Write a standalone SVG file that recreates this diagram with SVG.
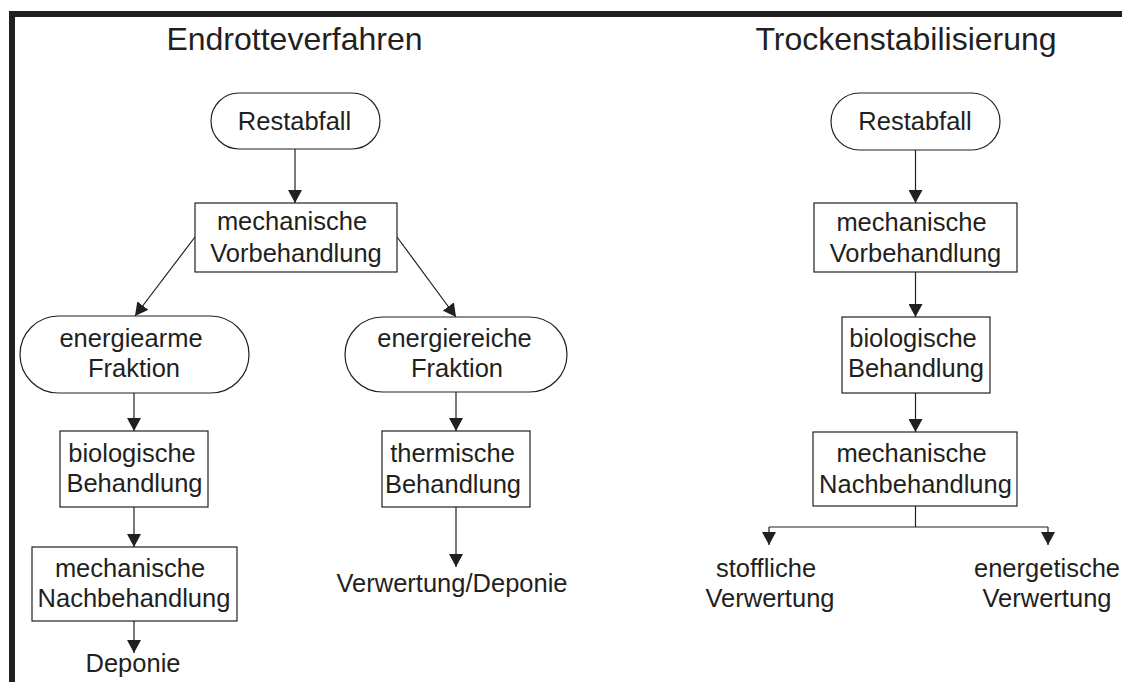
<svg xmlns="http://www.w3.org/2000/svg" width="1122" height="682" viewBox="0 0 1122 682">
<style>
.bg{fill:#fff}
.frame{stroke:#231f20;stroke-width:6;fill:none}
.node{fill:#fff;stroke:#231f20;stroke-width:1.2}
.t{font-family:"Liberation Sans",Arial,sans-serif;font-size:25.5px;fill:#231f20;text-anchor:middle}
.title{font-family:"Liberation Sans",Arial,sans-serif;font-size:32px;fill:#231f20;text-anchor:middle}
.edge{stroke:#231f20;stroke-width:1.2;fill:none}
.arr{marker-end:url(#ah)}
</style>
<defs>
<marker id="ah" markerUnits="userSpaceOnUse" markerWidth="14" markerHeight="14" viewBox="0 0 14 14" refX="13" refY="7" orient="auto">
<path d="M0,0 L13,7 L0,14 Z" fill="#231f20"/>
</marker>
</defs>
<rect class="bg" x="0" y="0" width="1122" height="682"/>
<path class="frame" d="M12,682 V14 H1122"/>
<text class="title" x="294.5" y="50">Endrotteverfahren</text>
<text class="title" x="906" y="50">Trockenstabilisierung</text>

<g id="connectors">
<line class="edge arr" x1="295" y1="149" x2="295" y2="203"/>
<line class="edge arr" x1="195" y1="237" x2="135" y2="316"/>
<line class="edge arr" x1="397" y1="237" x2="456" y2="317"/>
<line class="edge arr" x1="134" y1="393" x2="134" y2="431"/>
<line class="edge arr" x1="134" y1="507" x2="134" y2="547"/>
<line class="edge arr" x1="134" y1="621" x2="134" y2="653"/>
<line class="edge arr" x1="456" y1="392" x2="456" y2="431"/>
<line class="edge arr" x1="456" y1="507" x2="456" y2="567"/>
<line class="edge arr" x1="915.5" y1="150" x2="915.5" y2="203"/>
<line class="edge arr" x1="915.5" y1="272" x2="915.5" y2="317"/>
<line class="edge arr" x1="915.5" y1="393" x2="915.5" y2="432"/>
<path class="edge" d="M915.5,506 V527 M769,527 H1048"/>
<line class="edge arr" x1="769" y1="527" x2="769" y2="545"/>
<line class="edge arr" x1="1048" y1="527" x2="1048" y2="545"/>
</g>

<g id="restabfall-l"><rect class="node" x="211" y="93" width="169" height="56" rx="28"/><text class="t" x="294.5" y="130">Restabfall</text></g>
<g id="mvb-l"><rect class="node" x="195" y="203" width="202" height="69"/><text class="t" x="292" y="230">mechanische</text><text class="t" x="296" y="262">Vorbehandlung</text></g>
<g id="energiearm"><rect class="node" x="20" y="316" width="229" height="77" rx="38.5"/><text class="t" x="131" y="347">energiearme</text><text class="t" x="134" y="377">Fraktion</text></g>
<g id="energiereich"><rect class="node" x="345" y="317" width="222" height="75" rx="37.5"/><text class="t" x="454.5" y="347">energiereiche</text><text class="t" x="457" y="377">Fraktion</text></g>
<g id="bio-l"><rect class="node" x="60" y="431" width="148" height="76"/><text class="t" x="132" y="462">biologische</text><text class="t" x="134.5" y="492">Behandlung</text></g>
<g id="therm"><rect class="node" x="382" y="431" width="148" height="76"/><text class="t" x="452.5" y="462">thermische</text><text class="t" x="453" y="493">Behandlung</text></g>
<g id="mnb-l"><rect class="node" x="32" y="547" width="205" height="74"/><text class="t" x="130" y="577">mechanische</text><text class="t" x="134" y="607">Nachbehandlung</text></g>
<g id="deponie"><text class="t" x="133" y="672">Deponie</text></g>
<g id="verwdep"><text class="t" x="452" y="592">Verwertung/Deponie</text></g>

<g id="restabfall-r"><rect class="node" x="831" y="93" width="169" height="57" rx="28.5"/><text class="t" x="915" y="130">Restabfall</text></g>
<g id="mvb-r"><rect class="node" x="814" y="203" width="203" height="69"/><text class="t" x="911.5" y="231">mechanische</text><text class="t" x="915.5" y="262">Vorbehandlung</text></g>
<g id="bio-r"><rect class="node" x="842" y="317" width="148" height="76"/><text class="t" x="913" y="347">biologische</text><text class="t" x="916" y="377">Behandlung</text></g>
<g id="mnb-r"><rect class="node" x="813" y="432" width="204" height="74"/><text class="t" x="911.5" y="462">mechanische</text><text class="t" x="915.5" y="493">Nachbehandlung</text></g>
<g id="stofflich"><text class="t" x="766" y="577">stoffliche</text><text class="t" x="770" y="607">Verwertung</text></g>
<g id="energetisch"><text class="t" x="1047" y="577">energetische</text><text class="t" x="1047" y="607">Verwertung</text></g>
</svg>
